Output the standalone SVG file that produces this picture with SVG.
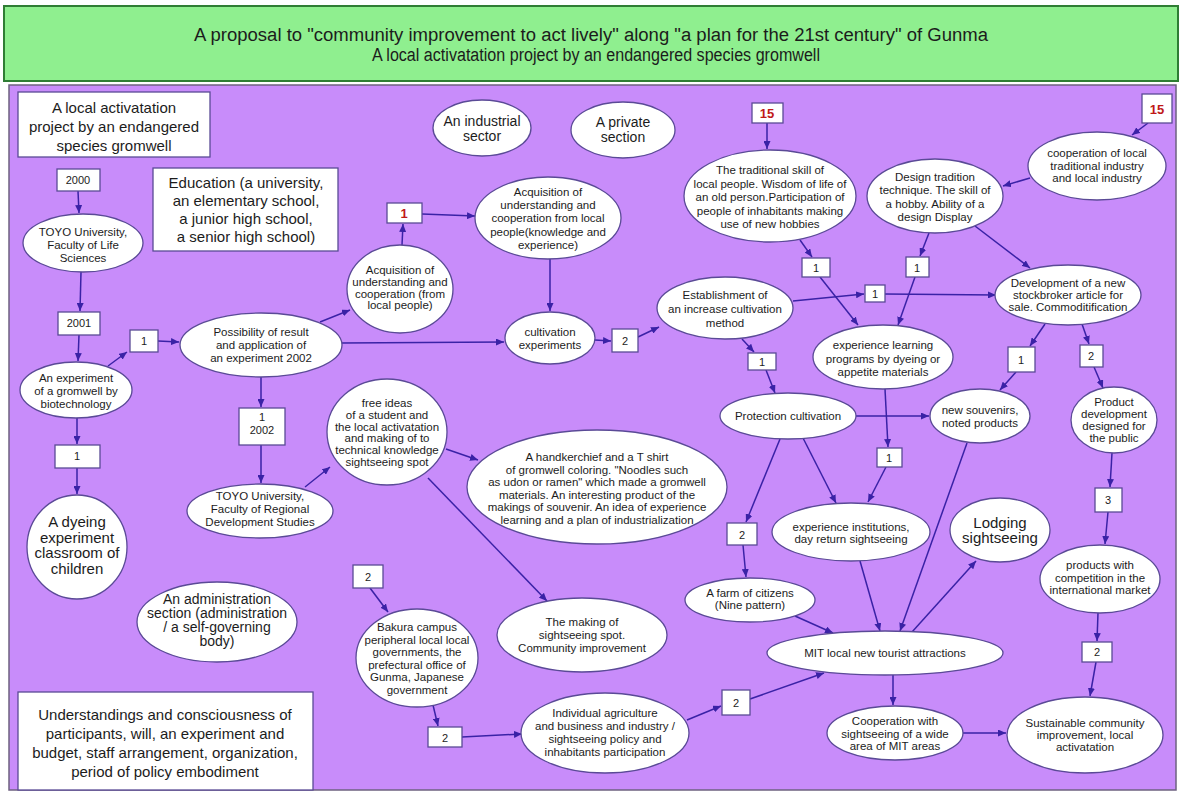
<svg xmlns="http://www.w3.org/2000/svg" width="1182" height="796" viewBox="0 0 1182 796">
<defs>
<marker id="ah" markerWidth="8" markerHeight="7" refX="8" refY="3.5" orient="auto" markerUnits="userSpaceOnUse">
<path d="M0,0 L8,3.5 L0,7 z" fill="#3a22a6"/>
</marker>
<style>
text{font-family:"Liberation Sans",Arial,sans-serif;fill:#1c1c1c;text-anchor:middle}
.node ellipse,.node rect{fill:#ffffff;stroke:#5a4a96;stroke-width:1.3}
.s{font-size:11.5px}
.m{font-size:14px}
.l{font-size:15px}
.red{fill:#c01818;font-weight:bold;font-size:13px}
.lbl{font-size:11px}
.ttl{font-size:18px}
#connectors line{stroke:#3a22a6;stroke-width:1.5;marker-end:url(#ah)}
</style>
</defs>
<rect x="0" y="0" width="1182" height="796" fill="#ffffff"/>
<g id="header">
<rect x="4" y="6" width="1174" height="75" fill="#8fef8f" stroke="#2f7d34" stroke-width="2"/>
<text class="ttl" x="591" y="41" textLength="794" lengthAdjust="spacingAndGlyphs">A proposal to "community improvement to act lively" along "a plan for the 21st century" of Gunma</text>
<text class="ttl" x="596" y="61" textLength="448" lengthAdjust="spacingAndGlyphs">A local activatation project by an endangered species gromwell</text>
</g>
<rect x="9" y="85" width="1167" height="705" fill="#c88cfa" stroke="#6e6280" stroke-width="1.5"/>

<g id="connectors">
<line x1="78" y1="191" x2="79" y2="213"/>
<line x1="81" y1="272" x2="80" y2="311"/>
<line x1="79" y1="335" x2="78" y2="361"/>
<line x1="108" y1="366" x2="127" y2="352"/>
<line x1="158" y1="341" x2="179" y2="342"/>
<line x1="77" y1="418" x2="77" y2="444"/>
<line x1="77" y1="468" x2="77" y2="494"/>
<line x1="320" y1="322" x2="350" y2="310"/>
<line x1="402" y1="245" x2="403" y2="224"/>
<line x1="422" y1="214" x2="475" y2="216"/>
<line x1="550" y1="259" x2="550" y2="311"/>
<line x1="342" y1="343" x2="504" y2="342"/>
<line x1="595" y1="340" x2="611" y2="341"/>
<line x1="638" y1="337" x2="659" y2="327"/>
<line x1="793" y1="301" x2="864" y2="294"/>
<line x1="885" y1="294" x2="996" y2="295"/>
<line x1="742" y1="339" x2="754" y2="352"/>
<line x1="766" y1="370" x2="775" y2="393"/>
<line x1="767" y1="123" x2="767" y2="149"/>
<line x1="800" y1="240" x2="812" y2="257"/>
<line x1="820" y1="277" x2="858" y2="325"/>
<line x1="929" y1="233" x2="920" y2="256"/>
<line x1="915" y1="277" x2="898" y2="325"/>
<line x1="975" y1="226" x2="1030" y2="268"/>
<line x1="1030" y1="178" x2="1003" y2="186"/>
<line x1="1148" y1="123" x2="1132" y2="135"/>
<line x1="1045" y1="324" x2="1030" y2="346"/>
<line x1="1016" y1="372" x2="1000" y2="390"/>
<line x1="1082" y1="324" x2="1089" y2="344"/>
<line x1="1094" y1="367" x2="1103" y2="388"/>
<line x1="1112" y1="453" x2="1110" y2="487"/>
<line x1="1108" y1="512" x2="1105" y2="544"/>
<line x1="1098" y1="613" x2="1097" y2="641"/>
<line x1="1096" y1="662" x2="1090" y2="696"/>
<line x1="962" y1="733" x2="1006" y2="733"/>
<line x1="893" y1="675" x2="893" y2="705"/>
<line x1="856" y1="416" x2="929" y2="416"/>
<line x1="885" y1="389" x2="888" y2="447"/>
<line x1="886" y1="467" x2="868" y2="502"/>
<line x1="803" y1="438" x2="836" y2="503"/>
<line x1="780" y1="439" x2="746" y2="522"/>
<line x1="743" y1="545" x2="746" y2="577"/>
<line x1="795" y1="616" x2="833" y2="633"/>
<line x1="860" y1="561" x2="880" y2="631"/>
<line x1="967" y1="443" x2="900" y2="631"/>
<line x1="912" y1="632" x2="976" y2="561"/>
<line x1="687" y1="720" x2="721" y2="706"/>
<line x1="750" y1="699" x2="824" y2="673"/>
<line x1="370" y1="588" x2="388" y2="612"/>
<line x1="433" y1="705" x2="438" y2="726"/>
<line x1="462" y1="737" x2="522" y2="734"/>
<line x1="261" y1="377" x2="261" y2="407"/>
<line x1="261" y1="445" x2="261" y2="483"/>
<line x1="305" y1="487" x2="330" y2="467"/>
<line x1="446" y1="449" x2="478" y2="460"/>
<line x1="428" y1="478" x2="547" y2="601"/>
</g>

<g id="n-title-box" class="node"><rect x="18" y="92" width="192" height="65"/>
<text class="l" x="114" y="113">A local activatation<tspan x="114" dy="19">project by an endangered</tspan><tspan x="114" dy="19">species gromwell</tspan></text></g>

<g id="n-2000" class="node"><rect x="57" y="169" width="43" height="22"/><text class="lbl" x="78" y="184">2000</text></g>

<g id="n-toyo-life" class="node"><ellipse cx="83" cy="243" rx="60" ry="29"/>
<text class="s" x="83" y="236">TOYO University,<tspan x="83" dy="13">Faculty of Life</tspan><tspan x="83" dy="13">Sciences</tspan></text></g>

<g id="n-2001" class="node"><rect x="58" y="312" width="42" height="23"/><text class="lbl" x="79" y="327">2001</text></g>

<g id="n-education" class="node"><rect x="153" y="168" width="185" height="83"/>
<text class="l" x="246" y="188">Education (a university,<tspan x="246" dy="18">an elementary school,</tspan><tspan x="246" dy="18">a junior high school,</tspan><tspan x="246" dy="18">a senior high school)</tspan></text></g>

<g id="n-b1a" class="node"><rect x="130" y="330" width="28" height="22"/><text class="lbl" x="144" y="345">1</text></g>

<g id="n-experiment" class="node"><ellipse cx="76" cy="390" rx="56" ry="28"/>
<text class="s" x="76" y="382">An experiment<tspan x="76" dy="13">of a gromwell by</tspan><tspan x="76" dy="13">biotechnology</tspan></text></g>

<g id="n-b1b" class="node"><rect x="55" y="445" width="45" height="23"/><text class="lbl" x="77" y="460">1</text></g>

<g id="n-dyeing" class="node"><ellipse cx="77" cy="547" rx="50" ry="52"/>
<text class="l" x="77" y="527">A dyeing<tspan x="77" dy="15.5">experiment</tspan><tspan x="77" dy="15.5">classroom of</tspan><tspan x="77" dy="15.5">children</tspan></text></g>

<g id="n-possibility" class="node"><ellipse cx="261" cy="345" rx="81" ry="32"/>
<text class="s" x="261" y="336">Possibility of result<tspan x="261" dy="13">and application of</tspan><tspan x="261" dy="13">an experiment 2002</tspan></text></g>

<g id="n-b1-2002" class="node"><rect x="239" y="408" width="46" height="37"/>
<text class="lbl" x="262" y="421">1<tspan x="262" dy="13">2002</tspan></text></g>

<g id="n-toyo-regional" class="node"><ellipse cx="260" cy="511" rx="73" ry="27"/>
<text class="s" x="260" y="500">TOYO University,<tspan x="260" dy="13">Faculty of Regional</tspan><tspan x="260" dy="13">Development Studies</tspan></text></g>

<g id="n-free-ideas" class="node"><ellipse cx="387" cy="432" rx="60" ry="53"/>
<text class="s" x="387" y="407">free ideas<tspan x="387" dy="11.8">of a student and</tspan><tspan x="387" dy="11.8">the local activatation</tspan><tspan x="387" dy="11.8">and making of to</tspan><tspan x="387" dy="11.8">technical knowledge</tspan><tspan x="387" dy="11.8">sightseeing spot</tspan></text></g>

<g id="n-acq-local" class="node"><ellipse cx="400" cy="289" rx="53" ry="44"/>
<text class="s" x="400" y="274">Acquisition of<tspan x="400" dy="11.8">understanding and</tspan><tspan x="400" dy="11.8">cooperation (from</tspan><tspan x="400" dy="11.8">local people)</tspan></text></g>

<g id="n-r1" class="node"><rect x="387" y="203" width="35" height="20"/><text class="red" x="404" y="218">1</text></g>

<g id="n-acq-knowledge" class="node"><ellipse cx="548" cy="218" rx="73" ry="41"/>
<text class="s" x="548" y="196">Acquisition of<tspan x="548" dy="13.2">understanding and</tspan><tspan x="548" dy="13.2">cooperation from local</tspan><tspan x="548" dy="13.2">people(knowledge and</tspan><tspan x="548" dy="13.2">experience)</tspan></text></g>

<g id="n-industrial" class="node"><ellipse cx="482" cy="128" rx="49" ry="28"/>
<text class="m" x="482" y="126">An industrial<tspan x="482" dy="15">sector</tspan></text></g>

<g id="n-private" class="node"><ellipse cx="623" cy="130" rx="52" ry="28"/>
<text class="m" x="623" y="127">A private<tspan x="623" dy="15">section</tspan></text></g>

<g id="n-cultivation" class="node"><ellipse cx="550" cy="338" rx="45" ry="26"/>
<text class="s" x="550" y="336">cultivation<tspan x="550" dy="13">experiments</tspan></text></g>

<g id="n-b2a" class="node"><rect x="612" y="329" width="26" height="23"/><text class="lbl" x="625" y="345">2</text></g>

<g id="n-establishment" class="node"><ellipse cx="725" cy="308" rx="68" ry="31"/>
<text class="s" x="725" y="299">Establishment of<tspan x="725" dy="14">an increase cultivation</tspan><tspan x="725" dy="14">method</tspan></text></g>

<g id="n-b1c" class="node"><rect x="748" y="353" width="28" height="17"/><text class="lbl" x="762" y="366">1</text></g>

<g id="n-protection" class="node"><ellipse cx="788" cy="416" rx="68" ry="23"/>
<text class="s" x="788" y="420">Protection cultivation</text></g>

<g id="n-r15a" class="node"><rect x="752" y="103" width="31" height="20"/><text class="red" x="767" y="118">15</text></g>

<g id="n-traditional" class="node"><ellipse cx="770" cy="196" rx="86" ry="46"/>
<text class="s" x="770" y="174">The traditional skill of<tspan x="770" dy="13.6">local people. Wisdom of life of</tspan><tspan x="770" dy="13.6">an old person.Participation of</tspan><tspan x="770" dy="13.6">people of inhabitants making</tspan><tspan x="770" dy="13.6">use of new hobbies</tspan></text></g>

<g id="n-design" class="node"><ellipse cx="935" cy="196" rx="68" ry="37"/>
<text class="s" x="935" y="181">Design tradition<tspan x="935" dy="13.3">technique. The skill of</tspan><tspan x="935" dy="13.3">a hobby. Ability of a</tspan><tspan x="935" dy="13.3">design Display</tspan></text></g>

<g id="n-r15b" class="node"><rect x="1142" y="94" width="30" height="29"/><text class="red" x="1157" y="114">15</text></g>

<g id="n-cooperation-ind" class="node"><ellipse cx="1097" cy="166" rx="69" ry="34"/>
<text class="s" x="1097" y="157">cooperation of local<tspan x="1097" dy="12.5">traditional industry</tspan><tspan x="1097" dy="12.5">and local industry</tspan></text></g>

<g id="n-b1d" class="node"><rect x="802" y="258" width="28" height="19"/><text class="lbl" x="816" y="272">1</text></g>
<g id="n-b1e" class="node"><rect x="906" y="257" width="23" height="20"/><text class="lbl" x="917" y="272">1</text></g>
<g id="n-b1f" class="node"><rect x="865" y="285" width="20" height="17"/><text class="lbl" x="875" y="298">1</text></g>

<g id="n-development" class="node"><ellipse cx="1068" cy="295" rx="73" ry="30"/>
<text class="s" x="1068" y="287">Development of a new<tspan x="1068" dy="12">stockbroker article for</tspan><tspan x="1068" dy="12">sale. Commoditification</tspan></text></g>

<g id="n-exp-learning" class="node"><ellipse cx="883" cy="357" rx="70" ry="32"/>
<text class="s" x="883" y="349">experience learning<tspan x="883" dy="13.5">programs by dyeing or</tspan><tspan x="883" dy="13.5">appetite materials</tspan></text></g>

<g id="n-b1g" class="node"><rect x="1008" y="347" width="27" height="25"/><text class="lbl" x="1021" y="364">1</text></g>
<g id="n-b2b" class="node"><rect x="1080" y="345" width="23" height="22"/><text class="lbl" x="1091" y="360">2</text></g>

<g id="n-souvenirs" class="node"><ellipse cx="980" cy="416" rx="50" ry="27"/>
<text class="s" x="980" y="414">new souvenirs,<tspan x="980" dy="13">noted products</tspan></text></g>

<g id="n-product-dev" class="node"><ellipse cx="1114" cy="420" rx="43" ry="33"/>
<text class="s" x="1114" y="406">Product<tspan x="1114" dy="12">development</tspan><tspan x="1114" dy="12">designed for</tspan><tspan x="1114" dy="12">the public</tspan></text></g>

<g id="n-b1h" class="node"><rect x="877" y="448" width="25" height="19"/><text class="lbl" x="889" y="462">1</text></g>
<g id="n-b3" class="node"><rect x="1095" y="488" width="27" height="24"/><text class="lbl" x="1108" y="504">3</text></g>

<g id="n-exp-inst" class="node"><ellipse cx="851" cy="532" rx="79" ry="29"/>
<text class="s" x="851" y="531">experience institutions,<tspan x="851" dy="12">day return sightseeing</tspan></text></g>

<g id="n-lodging" class="node"><ellipse cx="1000" cy="530" rx="50" ry="32"/>
<text class="l" x="1000" y="528">Lodging<tspan x="1000" dy="15">sightseeing</tspan></text></g>

<g id="n-b2c" class="node"><rect x="727" y="523" width="30" height="22"/><text class="lbl" x="742" y="539">2</text></g>

<g id="n-farm" class="node"><ellipse cx="750" cy="600" rx="65" ry="22"/>
<text class="s" x="750" y="597">A farm of citizens<tspan x="750" dy="12">(Nine pattern)</tspan></text></g>

<g id="n-competition" class="node"><ellipse cx="1100" cy="579" rx="60" ry="34"/>
<text class="s" x="1100" y="569">products with<tspan x="1100" dy="12.5">competition in the</tspan><tspan x="1100" dy="12.5">international market</tspan></text></g>

<g id="n-b2d" class="node"><rect x="1082" y="642" width="30" height="20"/><text class="lbl" x="1097" y="656">2</text></g>

<g id="n-mit" class="node"><ellipse cx="885" cy="653" rx="118" ry="22"/>
<text class="s" x="885" y="657">MIT local new tourist attractions</text></g>

<g id="n-coop-wide" class="node"><ellipse cx="895" cy="733" rx="68" ry="27"/>
<text class="s" x="895" y="725">Cooperation with<tspan x="895" dy="12.5">sightseeing of a wide</tspan><tspan x="895" dy="12.5">area of MIT areas</tspan></text></g>

<g id="n-sustainable" class="node"><ellipse cx="1085" cy="735" rx="78" ry="38"/>
<text class="s" x="1085" y="727">Sustainable community<tspan x="1085" dy="12">improvement, local</tspan><tspan x="1085" dy="12">activatation</tspan></text></g>

<g id="n-b2e" class="node"><rect x="353" y="565" width="30" height="23"/><text class="lbl" x="368" y="581">2</text></g>

<g id="n-bakura" class="node"><ellipse cx="417" cy="658" rx="61" ry="49"/>
<text class="s" x="417" y="631">Bakura campus<tspan x="417" dy="12.6">peripheral local local</tspan><tspan x="417" dy="12.6">governments, the</tspan><tspan x="417" dy="12.6">prefectural office of</tspan><tspan x="417" dy="12.6">Gunma, Japanese</tspan><tspan x="417" dy="12.6">government</tspan></text></g>

<g id="n-b2f" class="node"><rect x="428" y="727" width="34" height="20"/><text class="lbl" x="445" y="742">2</text></g>

<g id="n-individual" class="node"><ellipse cx="605" cy="733" rx="84" ry="40"/>
<text class="s" x="605" y="717">Individual agriculture<tspan x="605" dy="13">and business and industry /</tspan><tspan x="605" dy="13">sightseeing policy and</tspan><tspan x="605" dy="13">inhabitants participation</tspan></text></g>

<g id="n-b2g" class="node"><rect x="722" y="690" width="28" height="25"/><text class="lbl" x="736" y="707">2</text></g>

<g id="n-making" class="node"><ellipse cx="582" cy="635" rx="85" ry="37"/>
<text class="s" x="582" y="626">The making of<tspan x="582" dy="13">sightseeing spot.</tspan><tspan x="582" dy="13">Community improvement</tspan></text></g>

<g id="n-administration" class="node"><ellipse cx="217" cy="622" rx="80" ry="40"/>
<text class="m" x="217" y="604">An administration<tspan x="217" dy="14">section (administration</tspan><tspan x="217" dy="14">/ a self-governing</tspan><tspan x="217" dy="14">body)</tspan></text></g>

<g id="n-understandings" class="node"><rect x="18" y="692" width="295" height="98"/>
<text class="l" x="165" y="720">Understandings and consciousness of<tspan x="165" dy="19">participants, will, an experiment and</tspan><tspan x="165" dy="19">budget, staff arrangement, organization,</tspan><tspan x="165" dy="19">period of policy embodiment</tspan></text></g>

<g id="n-handkerchief" class="node"><ellipse cx="597" cy="487" rx="130" ry="57"/>
<text class="s" x="597" y="461">A handkerchief and a T shirt<tspan x="597" dy="12.5">of gromwell coloring. "Noodles such</tspan><tspan x="597" dy="12.5">as udon or ramen" which made a gromwell</tspan><tspan x="597" dy="12.5">materials. An interesting product of the</tspan><tspan x="597" dy="12.5">makings of souvenir. An idea of experience</tspan><tspan x="597" dy="12.5">learning and a plan of industrialization</tspan></text></g>
</svg>
